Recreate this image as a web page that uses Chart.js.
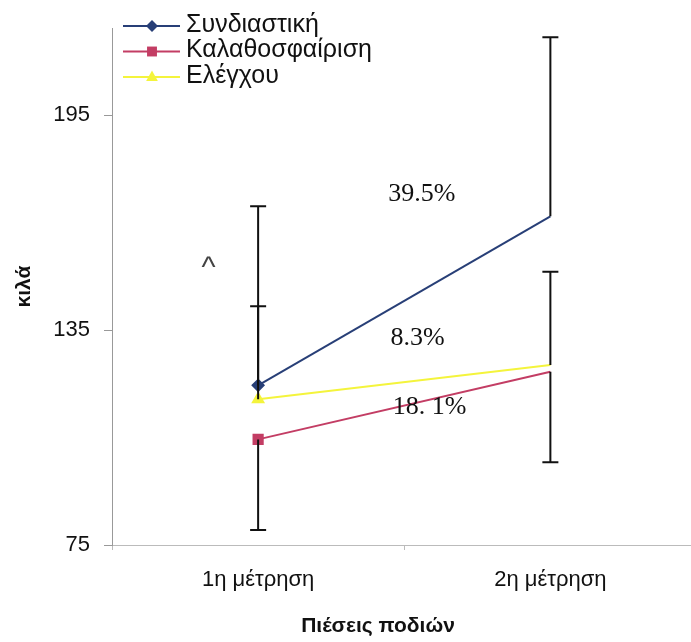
<!DOCTYPE html>
<html>
<head>
<meta charset="utf-8">
<script src="https://cdn.jsdelivr.net/npm/chart.js@4"></script>
<style>
  html, body { margin: 0; padding: 0; background: #fff; }
</style>
</head>
<body>
<canvas id="graph" width="691" height="642"></canvas>
<script>
// dedomena
var categories = ["1η μέτρηση", "2η μέτρηση"];
var seriesNames = ["Συνδιαστική", "Καλαθοσφαίριση", "Ελέγχου"];
var combined = [119.6, 166.8];
var basketball = [104.5, 123.4];
var control = [115.7, 125.3];
var combinedSD = [50, 50];
var basketballSD = [25.3, 25.3];
var controlSD = [26, 26];
var yTicks = [75, 135, 195];
var changeLabels = ["39.5%", "8.3%", "18. 1%"];

var fontSans = "'Liberation Sans', Arial, sans-serif";
var fontSerif = "'Liberation Serif', 'Times New Roman', serif";

function drawMarker(ctx, style, x, y, r, color) {
    ctx.save();
    ctx.fillStyle = color;
    ctx.beginPath();
    if (style === "rectRot") {
        ctx.moveTo(x, y - r); ctx.lineTo(x + r, y); ctx.lineTo(x, y + r); ctx.lineTo(x - r, y);
    } else if (style === "rect") {
        var s = r * Math.SQRT1_2;
        ctx.rect(x - s, y - s, 2 * s, 2 * s);
    } else {
        ctx.moveTo(x, y - r); ctx.lineTo(x + r * 0.9, y + r * 0.6); ctx.lineTo(x - r * 0.9, y + r * 0.6);
    }
    ctx.closePath();
    ctx.fill();
    ctx.restore();
}

// o aksonas x synexizei ligo eksw apo ton kamva, opws sto prwtotypo
var stretchX = {
    id: "stretchX",
    afterLayout: function(chart) {
        var x = chart.scales.x;
        x.right += 14;
        x.width += 14;
        x.configure();
        chart.chartArea.right += 14;
        chart.chartArea.width += 14;
    }
};

// error bars (mono pros mia meria, opws sto prwtotypo)
var errorBars = {
    id: "errorBars",
    afterDatasetsDraw: function(chart) {
        var ctx = chart.ctx, xs = chart.scales.x, ys = chart.scales.y;
        ctx.save();
        ctx.strokeStyle = "#111";
        ctx.lineWidth = 2;
        chart.data.datasets.forEach(function(ds) {
            ds.data.forEach(function(v, i) {
                var px = xs.getPixelForValue(i);
                var y0 = ys.getPixelForValue(v);
                var y1 = ys.getPixelForValue(v + ds.errDir * ds.sd[i]);
                ctx.beginPath();
                ctx.moveTo(px, y0); ctx.lineTo(px, y1);
                ctx.moveTo(px - 8, y1); ctx.lineTo(px + 8, y1);
                ctx.stroke();
            });
        });
        ctx.restore();
    }
};

// legend, keimena pososton kai titlos x
var extras = {
    id: "extras",
    afterDraw: function(chart) {
        var ctx = chart.ctx, xs = chart.scales.x, ys = chart.scales.y;
        ctx.save();
        // legend
        chart.data.datasets.forEach(function(ds, i) {
            var ly = 26 + i * 25.5;
            ctx.strokeStyle = ds.borderColor;
            ctx.lineWidth = 2;
            ctx.beginPath(); ctx.moveTo(123, ly); ctx.lineTo(180, ly); ctx.stroke();
            drawMarker(ctx, ds.pointStyle, 152, ly, ds.pointRadius[0] + 0.5, ds.pointBackgroundColor);
            ctx.fillStyle = "#111";
            ctx.font = "25px " + fontSans;
            ctx.textBaseline = "middle";
            ctx.textAlign = "left";
            ctx.fillText(ds.label, 186, ly - 1);
        });
        // pososta
        function at(frac, v) {
            var x0 = xs.getPixelForValue(0), x1 = xs.getPixelForValue(1);
            return [x0 + (x1 - x0) * frac, ys.getPixelForValue(v)];
        }
        var pos = [[0.56, 173.1], [0.546, 132.8], [0.587, 113.4]];
        ctx.font = "26px " + fontSerif;
        ctx.textAlign = "center";
        ctx.textBaseline = "middle";
        ctx.fillStyle = "#111";
        changeLabels.forEach(function(t, i) {
            var p = at(pos[i][0], pos[i][1]);
            ctx.fillText(t, p[0], p[1]);
        });
        var c = at(-0.17, 153.8);
        ctx.font = "30px " + fontSans;
        ctx.fillStyle = "#444";
        ctx.textBaseline = "alphabetic";
        ctx.fillText("^", c[0], c[1] + 14);
        // titlos x
        ctx.font = "bold 21px " + fontSans;
        ctx.fillStyle = "#111";
        ctx.textBaseline = "middle";
        ctx.fillText("Πιέσεις ποδιών", 378, 626);
        ctx.restore();
    }
};

var chart = new Chart(document.getElementById("graph").getContext("2d"), {
    type: "line",
    data: {
        labels: categories,
        datasets: [
            {
                label: seriesNames[0], data: combined, sd: combinedSD, errDir: 1,
                borderColor: "#283f77", backgroundColor: "#283f77", pointBackgroundColor: "#283f77",
                pointBorderColor: "#283f77", pointStyle: "rectRot", pointRadius: [5.5, 0], borderWidth: 2
            },
            {
                label: seriesNames[1], data: basketball, sd: basketballSD, errDir: -1,
                borderColor: "#c33d64", backgroundColor: "#c33d64", pointBackgroundColor: "#c33d64",
                pointBorderColor: "#c33d64", pointStyle: "rect", pointRadius: [6.5, 0], borderWidth: 2
            },
            {
                label: seriesNames[2], data: control, sd: controlSD, errDir: 1,
                borderColor: "#f4f43c", backgroundColor: "#f4f43c", pointBackgroundColor: "#f4f43c",
                pointBorderColor: "#f4f43c", pointStyle: "triangle", pointRadius: [6, 0], borderWidth: 2
            }
        ]
    },
    options: {
        responsive: false,
        animation: false,
        layout: { padding: { top: 28, right: 0, left: 0, bottom: 0 } },
        plugins: { legend: { display: false }, tooltip: { enabled: false } },
        scales: {
            x: {
                offset: true,
                grid: { drawOnChartArea: false, offset: true, tickLength: 5, color: "#bbb" },
                border: { color: "#bbb", width: 1 },
                ticks: { color: "#111", font: { family: fontSans, size: 22 }, padding: 17, maxRotation: 0 },
                afterFit: function(s) { s.height = 97; }
            },
            y: {
                min: 75,
                max: 219.4,
                afterBuildTicks: function(s) { s.ticks = yTicks.map(function(v) { return { value: v }; }); },
                grid: { drawOnChartArea: false, tickLength: 8, color: "#999" },
                border: { color: "#999", width: 1 },
                ticks: { color: "#111", font: { family: fontSans, size: 22 }, padding: 14 },
                title: { display: true, text: "κιλά", color: "#111", font: { family: fontSans, size: 21, weight: "bold" }, padding: { top: 12, bottom: 0 } },
                afterFit: function(s) { s.width = 112; }
            }
        }
    },
    plugins: [stretchX, errorBars, extras]
});
</script>
</body>
</html>
